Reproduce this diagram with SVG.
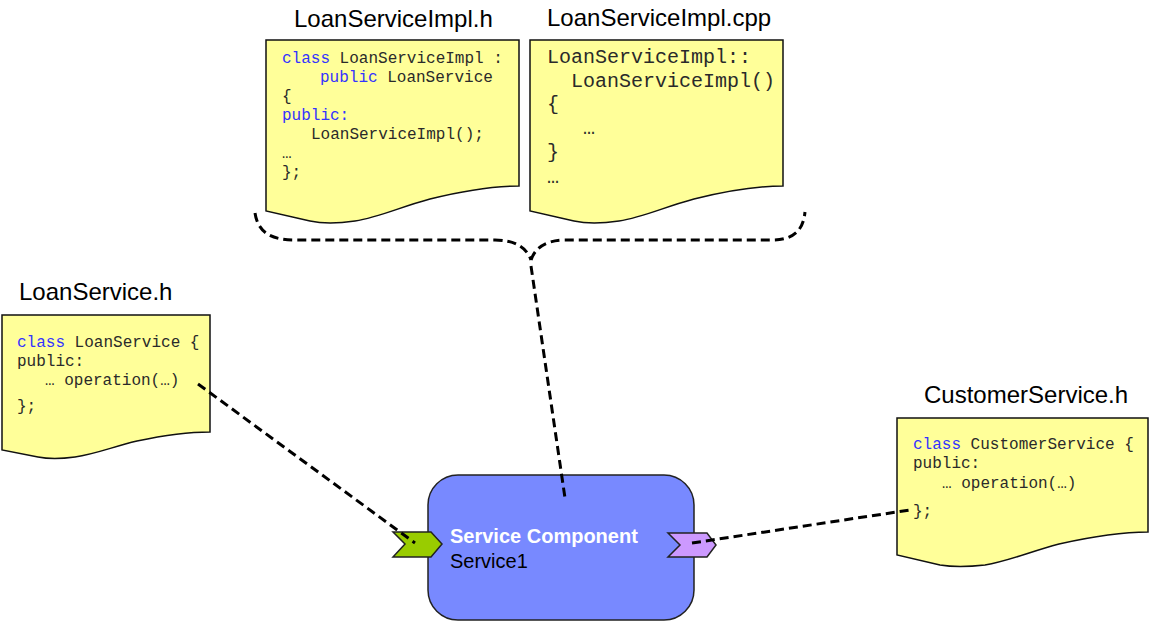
<svg xmlns="http://www.w3.org/2000/svg" width="1150" height="622" viewBox="0 0 1150 622">
<style>
.doc{fill:#ffff99;stroke:#111;stroke-width:1.5}
.title{font-family:"Liberation Sans",Arial,sans-serif;font-size:24px;fill:#000}
.code{font-family:"Liberation Mono","Courier New",monospace;font-size:16px;fill:#2a2a2a}
.code2{font-family:"Liberation Mono","Courier New",monospace;font-size:20px;fill:#2a2a2a}
.kw{fill:#3333ff}
.conn{fill:none;stroke:#000;stroke-width:3;stroke-dasharray:9 5}
.box{fill:#7889ff;stroke:#222;stroke-width:1.5}
.port{stroke:#222;stroke-width:1.5}
</style>
<g id="loanserviceimpl-h">
<text class="title" x="294" y="27">LoanServiceImpl.h</text>
<path class="doc" d="M266,40 H519 V186 C500,186 470,189 430,199 C400,207 380,217 355,221 Q328,225 310,221 L266,211 Z"/>
<text class="code" x="282" y="63"><tspan class="kw">class</tspan> LoanServiceImpl :</text>
<text class="code" x="320" y="82"><tspan class="kw">public</tspan> LoanService</text>
<text class="code" x="282" y="101">{</text>
<text class="code kw" x="282" y="120">public:</text>
<text class="code" x="311" y="139">LoanServiceImpl();</text>
<text class="code" x="282" y="158">…</text>
<text class="code" x="282" y="177">};</text>
</g>
<g id="loanserviceimpl-cpp">
<text class="title" x="547" y="26">LoanServiceImpl.cpp</text>
<path class="doc" d="M530,40 H783 V186 C764,186 734,189 694,199 C664,207 644,217 619,221 Q592,225 574,221 L530,211 Z"/>
<text class="code2" x="547" y="63">LoanServiceImpl::</text>
<text class="code2" x="571" y="87">LoanServiceImpl()</text>
<text class="code2" x="547" y="110">{</text>
<text class="code2" x="583" y="134">…</text>
<text class="code2" x="547" y="158">}</text>
<text class="code2" x="547" y="183">…</text>
</g>
<g id="loanservice-h">
<text class="title" x="19" y="300">LoanService.h</text>
<path class="doc" d="M2,315 H210 V432 C194,432 170,434 137,441 C112,447 96,454 75,457 Q53,460 38,457 L2,450 Z"/>
<text class="code" x="17" y="347"><tspan class="kw">class</tspan> LoanService {</text>
<text class="code" x="17" y="366">public:</text>
<text class="code" x="45" y="385">… operation(…)</text>
<text class="code" x="17" y="411">};</text>
</g>
<g id="customerservice-h">
<text class="title" x="924" y="403">CustomerService.h</text>
<path class="doc" d="M897,418 H1148 V532 C1129,532 1099,535 1059,544 C1029,552 1009,561 985,565 Q958,568 940,565 L897,555 Z"/>
<text class="code" x="913" y="449"><tspan class="kw">class</tspan> CustomerService {</text>
<text class="code" x="913" y="468">public:</text>
<text class="code" x="942" y="488">… operation(…)</text>
<text class="code" x="913" y="516">};</text>
</g>
<g id="service-component">
<rect class="box" x="428" y="475" width="266" height="145" rx="30" ry="30"/>
<text x="450" y="543" font-family="Liberation Sans,Arial,sans-serif" font-size="20" font-weight="bold" fill="#fff">Service Component</text>
<text x="450" y="568" font-family="Liberation Sans,Arial,sans-serif" font-size="20" fill="#000">Service1</text>
<polygon class="port" fill="#99cc00" points="393,532 431,532 442,544 431,557 393,557 405,544"/>
<polygon class="port" fill="#cc99ff" points="668,533 707,533 716,545 707,557 668,557 680,545"/>
</g>
<g id="connectors">
<path class="conn" d="M198,384 L415,543"/>
<path class="conn" d="M692,543 L910,510"/>
<path class="conn" d="M255,213 C258,233 272,240 295,240 H495 C515,240 527,248 531,260"/>
<path class="conn" d="M531,260 C535,248 546,240 565,240 H772 C792,240 803,232 805,212"/>
<path class="conn" d="M531,266 L565,498"/>
</g>
</svg>
